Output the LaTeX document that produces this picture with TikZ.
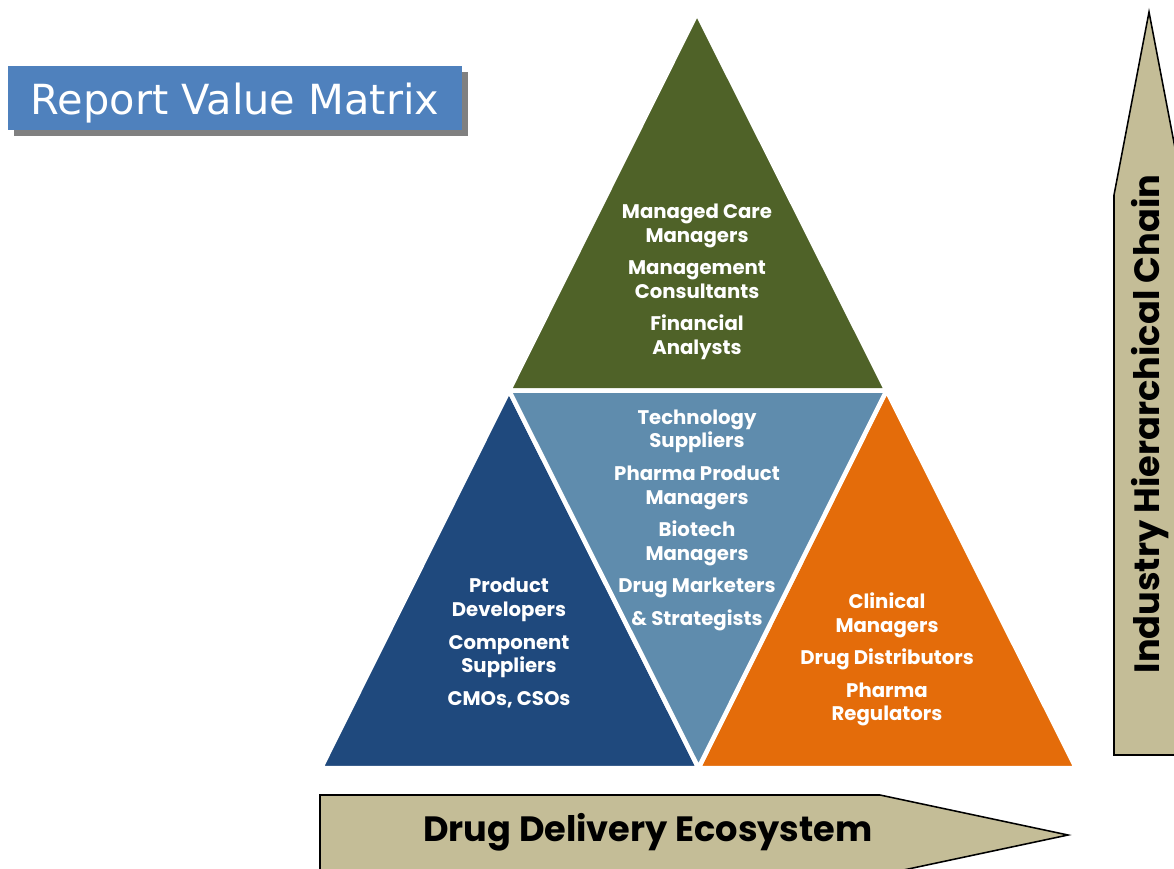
\documentclass[tikz,border=0pt]{standalone}
\usepackage{fontspec}
\usepackage{graphicx}
\usepackage{tikz}
\usetikzlibrary{shadows}
\newfontfamily\gothic{Poppins}
\newfontfamily\titlefont{DejaVu Sans}
\definecolor{titleblue}{HTML}{4F81BD}
\definecolor{olive}{HTML}{4F6228}
\definecolor{steel}{HTML}{5F8CAD}
\definecolor{navy}{HTML}{1F497D}
\definecolor{orangeish}{HTML}{E46C0A}
\definecolor{tan}{HTML}{C4BD97}
\tikzstyle{tri} = [draw=white, line width=3.2pt, line join=miter]
\tikzstyle{tritext} = [text=white, align=center, font=\gothic\bfseries\fontsize{14}{17}\selectfont]
\tikzstyle{band} = [draw=black, fill=tan, line width=1.1pt, line join=miter]
\tikzstyle{bandtext} = [font=\gothic\bfseries\fontsize{25}{30}\selectfont]

\begin{document}
\begin{tikzpicture}[x=0.025cm, y=-0.025cm]
	\useasboundingbox (0,0) rectangle (1174,868);
	% corners of the pyramid
	\coordinate (apex) at (697,13);
	\coordinate (bl) at (321,768);
	\coordinate (br) at (1076,768);
	\coordinate (ml) at (509,390.5);
	\coordinate (mr) at (886.5,390.5);
	\coordinate (mb) at (698.5,768);

	\path [tri, fill=olive] (apex) -- (mr) -- (ml) -- cycle;
	\path [tri, fill=navy] (ml) -- (mb) -- (bl) -- cycle;
	\path [tri, fill=orangeish] (mr) -- (br) -- (mb) -- cycle;
	\path [tri, fill=steel] (ml) -- (mr) -- (mb) -- cycle;

	\node [tritext] (top) at (697,282) {Managed Care\\Managers\\[6pt]Management\\Consultants\\[6pt]Financial\\Analysts};
	\node [tritext] (mid) at (697,520) {Technology\\Suppliers\\[6pt]Pharma Product\\Managers\\[6pt]Biotech\\Managers\\[6pt]Drug Marketers\\[6pt]\& Strategists};
	\node [tritext] (left) at (509,643) {Product\\Developers\\[6pt]Component\\Suppliers\\[6pt]CMOs, CSOs};
	\node [tritext] (right) at (887,659.5) {Clinical\\Managers\\[6pt]Drug Distributors\\[6pt]Pharma\\Regulators};

	% arrows
	\path [band] (320,795) -- (880,795) -- (1068,835) -- (880,875) -- (320,875) -- cycle;
	\path [band] (1114,755) -- (1114,195) -- (1149,12) -- (1184,195) -- (1184,755) -- cycle;
	\node [bandtext] (eco) at (648,832) {Drug Delivery Ecosystem};
	\node [bandtext, rotate=90] (chain) at (1150,424) {Industry Hierarchical Chain};

	% title
	\node [fill=titleblue, text=white, minimum width=11.35cm, minimum height=1.6cm,
		drop shadow={shadow xshift=0.15cm, shadow yshift=-0.15cm, fill=gray, opacity=1},
		font=\titlefont\fontsize{29.5}{34}\selectfont] (title) at (235,98) {\raisebox{-0.13cm}[\height][\depth]{Report Value Matrix}};
\end{tikzpicture}
\end{document}
